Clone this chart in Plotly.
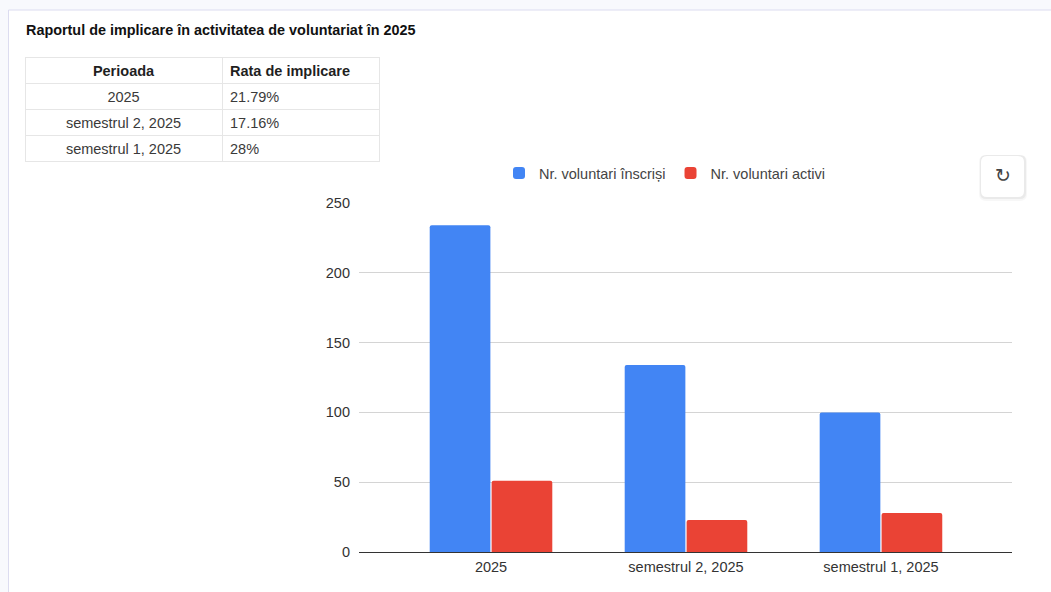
import plotly.graph_objects as go

categories = ["2025", "semestrul 2, 2025", "semestrul 1, 2025"]
inscrisi = [234, 134, 100]
activi = [51, 23, 28]
rates = ["21.79%", "17.16%", "28%"]
title_text = "Raportul de implicare în activitatea de voluntariat în 2025"
W, H = 1051, 592
FONT = "Liberation Sans, Arial, sans-serif"


def px(x):
    return x / W


def py(y):
    return 1 - y / H


def rounded(x0, y0, x1, y1, r):
    return (f"M {px(x0 + r)} {py(y0)} L {px(x1 - r)} {py(y0)} Q {px(x1)} {py(y0)} {px(x1)} {py(y0 + r)} "
            f"L {px(x1)} {py(y1 - r)} Q {px(x1)} {py(y1)} {px(x1 - r)} {py(y1)} "
            f"L {px(x0 + r)} {py(y1)} Q {px(x0)} {py(y1)} {px(x0)} {py(y1 - r)} "
            f"L {px(x0)} {py(y0 + r)} Q {px(x0)} {py(y0)} {px(x0 + r)} {py(y0)} Z")


fig = go.Figure()
fig.add_trace(go.Table(
    domain=dict(x=[px(25), px(379)], y=[py(162), py(57)]),
    columnwidth=[197, 157],
    header=dict(
        values=["Perioada", "Rata de implicare"],
        align=["center", "left"], height=26,
        line=dict(color="#e6e6e6", width=1), fill=dict(color="white"),
        font=dict(family=FONT, size=14.5, color="#1f1f1f", weight="bold"),
    ),
    cells=dict(
        values=[categories, rates],
        align=["center", "left"], height=26,
        line=dict(color="#e6e6e6", width=1), fill=dict(color="white"),
        font=dict(family=FONT, size=14.5, color="#3a3a3a"),
    ),
))
fig.add_trace(go.Bar(name="Nr. voluntari înscriși", x=categories, y=inscrisi, marker_color="#4285f4", marker_line_width=0))
fig.add_trace(go.Bar(name="Nr. voluntari activi", x=categories, y=activi, marker_color="#ea4335", marker_line_width=0))

fig.update_layout(
    width=W, height=H, autosize=False,
    margin=dict(l=0, r=0, t=0, b=0, pad=0, autoexpand=False),
    paper_bgcolor="#f8f9fd", plot_bgcolor="rgba(0,0,0,0)",
    font=dict(family=FONT, size=14.5, color="#444444"),
    barmode="group", bargap=0.365, bargroupgap=0.02, barcornerradius=2,
    xaxis=dict(
        domain=[px(359), px(1012)], range=[-0.677, 2.672], anchor="y",
        showgrid=False, showline=True, linecolor="#333333", linewidth=1,
        ticks="", tickfont=dict(size=14.5, color="#333333"), fixedrange=True, ticklabelstandoff=2,
    ),
    yaxis=dict(
        domain=[py(552), py(203)], range=[0, 250], anchor="x",
        tickvals=[0, 50, 100, 150, 200, 250], gridcolor="#d4d4d4", gridwidth=1,
        zeroline=False, ticks="", tickfont=dict(size=14.5, color="#333333"), fixedrange=True, ticklabelstandoff=8,
    ),
    legend=dict(
        orientation="h", x=px(499), y=py(157), xanchor="left", yanchor="top",
        bgcolor="rgba(0,0,0,0)", font=dict(size=14.5, color="#444444"),
        traceorder="normal", itemclick=False, itemdoubleclick=False,
    ),
    showlegend=True,
    shapes=[
        dict(type="rect", layer="below", xref="paper", yref="paper", x0=px(8.5), x1=px(1060), y0=py(600), y1=py(10),
             fillcolor="white", line=dict(color="#dcdcf0", width=1)),
        dict(type="path", layer="above", xref="paper", yref="paper", path=rounded(979, 155, 1027, 201, 7),
             fillcolor="rgba(0,0,0,0.03)", line=dict(width=0)),
        dict(type="path", layer="above", xref="paper", yref="paper", path=rounded(980, 155, 1026, 199, 6),
             fillcolor="rgba(0,0,0,0.05)", line=dict(width=0)),
        dict(type="path", layer="above", xref="paper", yref="paper", path=rounded(981, 156, 1024, 197, 6),
             fillcolor="white", line=dict(width=0)),
    ],
    annotations=[
        dict(text=f"<b>{title_text}</b>", xref="paper", yref="paper", x=px(23.5), y=py(30), xanchor="left", yanchor="middle",
             showarrow=False, font=dict(family=FONT, size=14.4, color="#111111")),
        dict(text="↻", xref="paper", yref="paper", x=px(1002.5), y=py(175), xanchor="center", yanchor="middle",
             showarrow=False, font=dict(family="DejaVu Sans", size=19, color="#444444")),
    ],
)

fig.write_html(
    "out.html",
    config=dict(displayModeBar=False, responsive=False),
    post_script="document.body.style.margin='0';document.body.style.overflow='hidden';",
)
